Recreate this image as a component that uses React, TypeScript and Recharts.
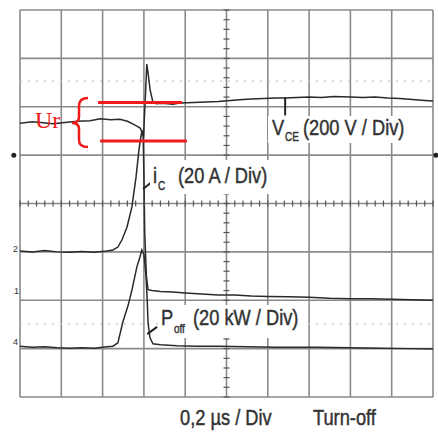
import React from 'react'
import { ComposedChart, Line, XAxis, YAxis, ReferenceLine, ReferenceDot } from 'recharts'

// scope screen: x in divisions (0,2 µs / Div), y in divisions counted from the bottom
const vceTrace = [
  [0, 5.66], [0.3, 5.69], [0.56, 5.67], [0.8, 5.65], [1.14, 5.68], [1.4, 5.7], [1.7, 5.71],
  [1.94, 5.75], [2.2, 5.73], [2.42, 5.74], [2.6, 5.7], [2.74, 5.64], [2.85, 5.59], [2.91, 5.56],
  [2.96, 5.46], [2.99, 5.37], [3.03, 6.1], [3.07, 6.88], [3.1, 6.7], [3.15, 6.35], [3.22, 6.09],
  [3.3, 6.06], [3.45, 6.07], [3.7, 6.05], [3.9, 6.08], [4.2, 6.09], [4.5, 6.1], [4.8, 6.11],
  [5.1, 6.13], [5.4, 6.15], [5.6, 6.16], [5.9, 6.17], [6.2, 6.18], [6.42, 6.18], [6.7, 6.19],
  [7.0, 6.2], [7.3, 6.19], [7.6, 6.21], [8.0, 6.2], [8.3, 6.19], [8.6, 6.2], [8.9, 6.18],
  [9.2, 6.17], [9.5, 6.15], [9.8, 6.13], [10, 6.12],
]
const icTrace = [
  [0, 3.02], [0.3, 3.0], [0.6, 3.03], [0.9, 3.0], [1.2, 2.99], [1.5, 3.01], [1.8, 2.99],
  [2.1, 3.02], [2.25, 3.04], [2.37, 3.1], [2.47, 3.25], [2.59, 3.51], [2.71, 3.93], [2.81, 4.55],
  [2.88, 5.11], [2.94, 5.45], [2.98, 5.5], [3.0, 4.6], [3.02, 3.4], [3.06, 2.5], [3.1, 2.22],
  [3.2, 2.2], [3.4, 2.18], [3.7, 2.17], [4.0, 2.15], [4.4, 2.13], [4.8, 2.11], [5.2, 2.11],
  [5.6, 2.09], [6.0, 2.08], [6.5, 2.07], [7.0, 2.06], [7.5, 2.04], [8.0, 2.03], [8.5, 2.03],
  [9.0, 2.02], [9.5, 2.01], [10, 2.0],
]
const poffTrace = [
  [0, 1.05], [0.3, 1.03], [0.6, 1.04], [0.9, 1.02], [1.2, 1.01], [1.5, 1.02], [1.8, 1.01],
  [2.1, 1.04], [2.25, 1.05], [2.37, 1.12], [2.49, 1.55], [2.62, 1.9], [2.71, 2.21], [2.83, 2.69],
  [2.91, 2.91], [2.95, 3.04], [3.0, 2.94], [3.05, 2.52], [3.08, 2.01], [3.1, 1.53], [3.15, 1.22],
  [3.22, 1.1], [3.4, 1.08], [3.8, 1.06], [4.3, 1.05], [4.8, 1.05], [5.5, 1.04], [6.2, 1.03],
  [7.2, 1.03], [8.0, 1.02], [8.7, 1.01], [9.4, 1.0], [10, 0.99],
]

const xDivs = [0, 1, 2, 3, 4, 5, 6, 7, 8, 9, 10]
const yDivs = [0, 1, 2, 3, 4, 5, 6, 7, 8]
const dottedLevels = [6.53, 1.51]
const xMinor = Array.from({ length: 51 }, (_, i) => i * 0.2)
const yMinor = Array.from({ length: 41 }, (_, i) => i * 0.2)

// Ur marker lines and label pointers, in divisions
const urUpper = [[1.89, 6.09], [3.92, 6.09]]
const urLower = [[1.94, 5.29], [4.04, 5.29]]
const pointers = [
  [[6.42, 6.2], [6.42, 5.82]],
  [[2.98, 4.3], [3.2, 4.45]],
  [[3.08, 1.3], [3.32, 1.45]],
]

const toPoints = (trace: number[][]) => trace.map(([t, v]) => ({ t, v }))
const seg = (s: number[][]) => s.map(([x, y]) => ({ x, y }))

const GRID = '#8a8a8a'
const TRACE = '#2a2a2a'
const INK = '#333'

function Narrow({ x, y, size = 22, children }: any) {
  return (
    <text
      transform={`translate(${x},${y}) scale(0.83,1)`}
      fontSize={size}
      fill={INK}
      stroke={INK}
      strokeWidth={0.45}
      fontFamily="'Liberation Sans', Arial, sans-serif"
    >
      {children}
    </text>
  )
}

function Overlay() {
  return (
    <svg width={438} height={432} style={{ position: 'absolute', left: 0, top: 0, pointerEvents: 'none' }}>
      <rect x={268} y={116} width={142} height={27} fill="#fff" />
      <rect x={150} y={160} width={122} height={34} fill="#fff" />
      <rect x={158} y={305} width={148} height={33} fill="#fff" />

      <Narrow x={272} y={135}>V</Narrow>
      <Narrow x={285} y={141} size={12}>CE</Narrow>
      <Narrow x={303} y={135}>(200 V / Div)</Narrow>

      <Narrow x={153} y={183}>i</Narrow>
      <Narrow x={158} y={190} size={12}>C</Narrow>
      <Narrow x={178} y={183}>(20 A / Div)</Narrow>

      <Narrow x={161} y={325}>P</Narrow>
      <Narrow x={174} y={333} size={12}>off</Narrow>
      <Narrow x={193} y={325}>(20 kW / Div)</Narrow>

      <Narrow x={180} y={425}>0,2 µs / Div</Narrow>
      <Narrow x={313} y={425}>Turn-off</Narrow>

      <text x={13} y={252} fontSize={9} fill={INK} fontFamily="'Liberation Sans', Arial">2</text>
      <text x={14} y={294} fontSize={9} fill={INK} fontFamily="'Liberation Sans', Arial">1</text>
      <text x={13} y={345} fontSize={9} fill={INK} fontFamily="'Liberation Sans', Arial">4</text>

      <text x={35} y={128} fontSize={24} fill="#ee1b1b" fontFamily="'Liberation Serif', 'Times New Roman', serif">Ur</text>
      <path
        d="M88,98 Q79,98 79,106 L79,117 Q79,123 72,123 Q79,123 79,129 L79,140 Q79,147 88,147"
        fill="none"
        stroke="#ee1b1b"
        strokeWidth={2.5}
      />
    </svg>
  )
}

export default function App() {
  return (
    <div style={{ position: 'absolute', left: 0, top: 0, width: 438, height: 432, background: '#fff' }}>
      <ComposedChart width={438} height={432} margin={{ top: 10, right: 5, bottom: 35, left: 20 }}>
        <XAxis type="number" dataKey="t" domain={[0, 10]} ticks={xDivs} hide allowDataOverflow />
        <YAxis type="number" dataKey="v" domain={[0, 8]} ticks={yDivs} hide allowDataOverflow />

        {xDivs.map((x) => (
          <ReferenceLine key={'gx' + x} x={x} stroke={GRID} strokeWidth={1.6} ifOverflow="visible" />
        ))}
        {yDivs.map((y) => (
          <ReferenceLine key={'gy' + y} y={y} stroke={GRID} strokeWidth={1.6} ifOverflow="visible" />
        ))}
        {dottedLevels.map((y) => (
          <ReferenceLine key={'d' + y} y={y} stroke="#c4c4c4" strokeWidth={1.3} strokeDasharray="2 6" />
        ))}

        {xMinor.map((x) => (
          <ReferenceDot
            key={'mx' + x}
            x={x}
            y={4}
            ifOverflow="visible"
            shape={(p: any) => <line x1={p.cx} x2={p.cx} y1={p.cy - 3} y2={p.cy + 3} stroke="#555" strokeWidth={1.2} />}
          />
        ))}
        {yMinor.map((y) => (
          <ReferenceDot
            key={'my' + y}
            x={5}
            y={y}
            ifOverflow="visible"
            shape={(p: any) => <line x1={p.cx - 3} x2={p.cx + 3} y1={p.cy} y2={p.cy} stroke="#555" strokeWidth={1.2} />}
          />
        ))}

        <Line data={toPoints(vceTrace)} dataKey="v" type="linear" stroke={TRACE} strokeWidth={1.5} dot={false} isAnimationActive={false} />
        <Line data={toPoints(icTrace)} dataKey="v" type="linear" stroke={TRACE} strokeWidth={1.5} dot={false} isAnimationActive={false} />
        <Line data={toPoints(poffTrace)} dataKey="v" type="linear" stroke={TRACE} strokeWidth={1.5} dot={false} isAnimationActive={false} />

        <ReferenceLine segment={seg(urUpper)} stroke="#ee1b1b" strokeWidth={3} ifOverflow="visible" />
        <ReferenceLine segment={seg(urLower)} stroke="#ee1b1b" strokeWidth={3} ifOverflow="visible" />
        {pointers.map((s, i) => (
          <ReferenceLine key={'p' + i} segment={seg(s)} stroke="#222" strokeWidth={2} ifOverflow="visible" />
        ))}

        <ReferenceDot x={-0.15} y={5} r={2.5} fill="#222" stroke="none" ifOverflow="visible" />
        <ReferenceDot x={10.07} y={5} r={2.5} fill="#222" stroke="none" ifOverflow="visible" />
      </ComposedChart>
      <Overlay />
    </div>
  )
}
